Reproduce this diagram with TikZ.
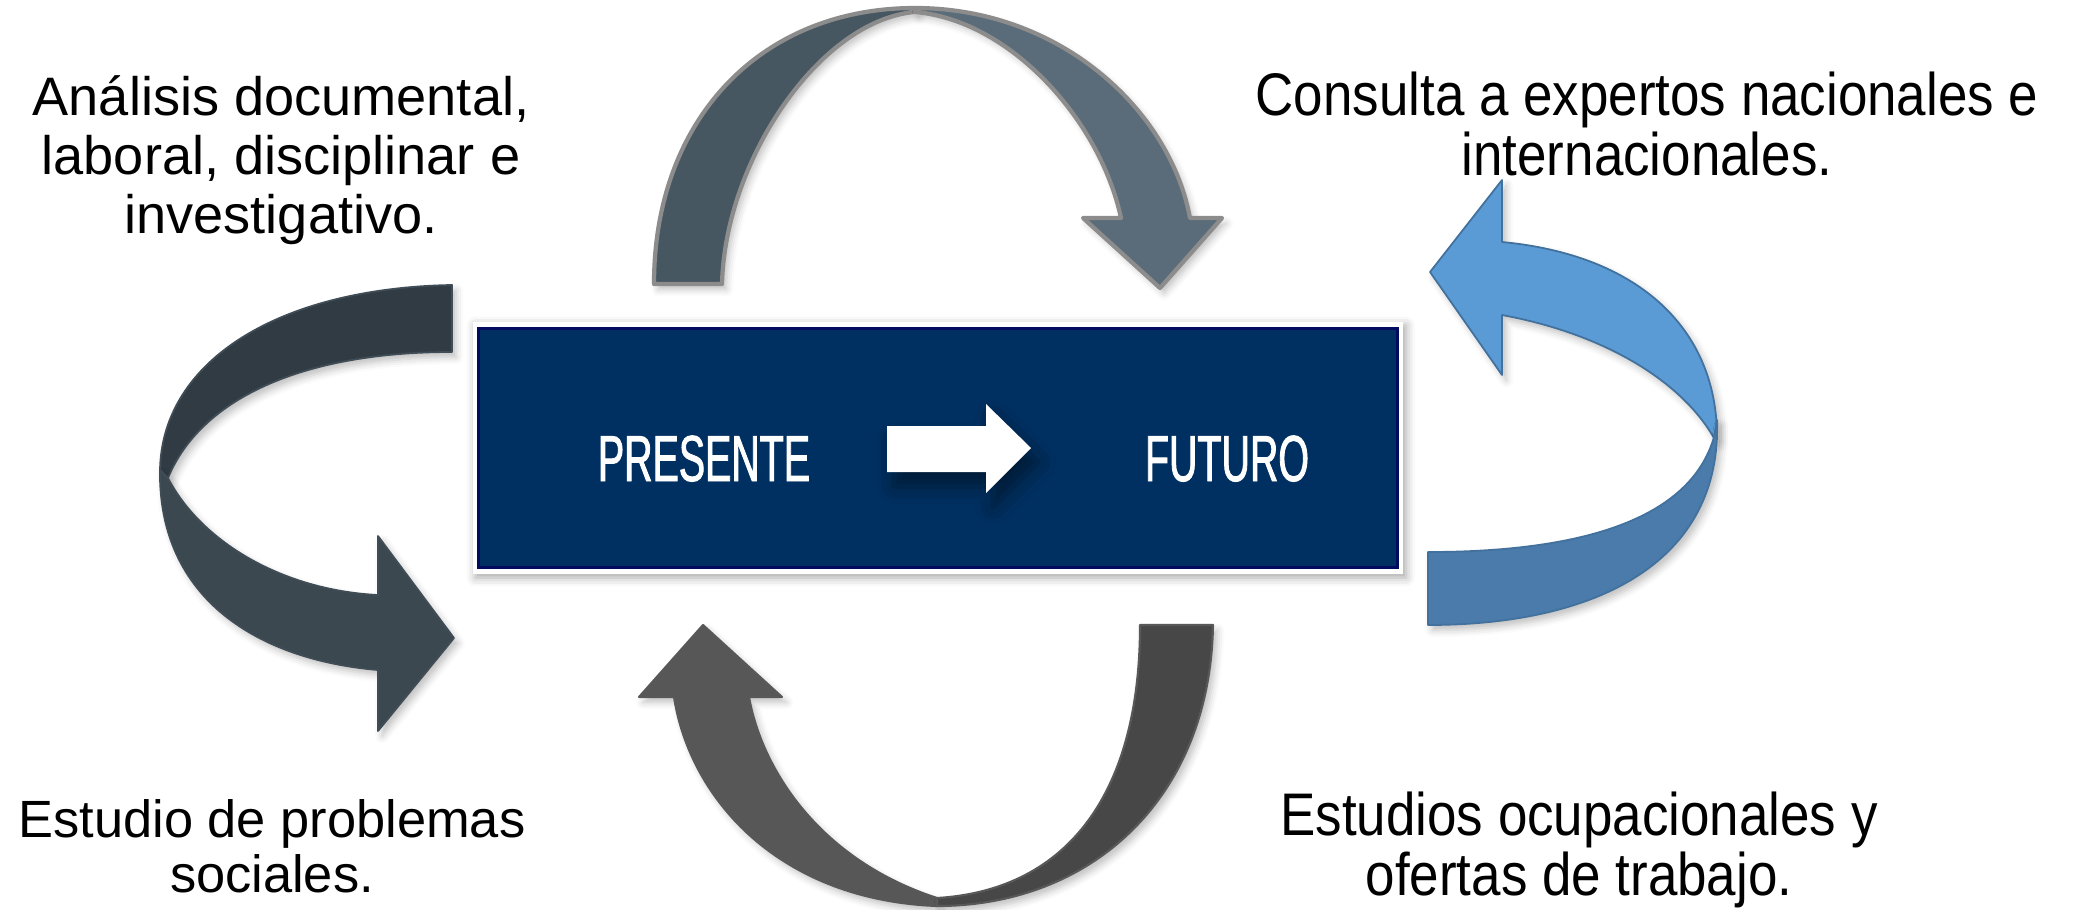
\documentclass[tikz,border=0pt]{standalone}
\usepackage{fontspec}
\setmainfont{Liberation Sans}
\newfontfamily\narrowfont{Liberation Sans}[FakeStretch=0.88]
\newfontfamily\condfont{Liberation Sans}[FakeStretch=0.605, FakeBold=1.3]
\usetikzlibrary{shadows.blur}
\definecolor{topLc}{RGB}{71,87,97}
\definecolor{topRc}{RGB}{90,108,121}
\definecolor{topline}{RGB}{140,140,140}
\definecolor{leftT}{RGB}{49,59,67}
\definecolor{leftB}{RGB}{59,72,80}
\definecolor{leftline}{RGB}{64,77,86}
\definecolor{rightT}{RGB}{91,155,213}
\definecolor{rightB}{RGB}{74,123,171}
\definecolor{rightline}{RGB}{65,113,156}
\definecolor{botL}{RGB}{87,87,87}
\definecolor{botR}{RGB}{71,71,71}
\definecolor{botline}{RGB}{88,88,88}
\definecolor{boxfill}{RGB}{0,48,97}
\definecolor{boxline}{RGB}{0,10,94}
\tikzset{
  every node/.style={inner sep=0pt, outer sep=0pt},
  shad/.style={blur shadow={shadow xshift=1.2pt, shadow yshift=-1.5pt, shadow blur radius=2pt, shadow opacity=25}},
  topband/.style={shad, draw=topline, line width=1.2pt, line join=round},
  leftband/.style={shad, draw=leftline, line width=0.5pt, line join=round},
  rightband/.style={shad, draw=rightline, line width=0.5pt, line join=round},
  botband/.style={shad, draw=botline, line width=0.6pt, line join=round},
  frame/.style={fill=white, minimum width=9.30cm, minimum height=2.52cm,
    blur shadow={shadow xshift=0.8pt, shadow yshift=-1pt, shadow blur radius=2.5pt, shadow opacity=35}},
  box/.style={fill=boxfill, draw=boxline, line width=0.85pt, minimum width=9.18cm, minimum height=2.38cm},
  boxtext/.style={text=white, font=\condfont\fontsize{18.5pt}{19pt}\selectfont},
  lblA/.style={font=\fontsize{15.4pt}{16.8pt}\selectfont},
  lblB/.style={font=\fontsize{14.9pt}{15.9pt}\selectfont},
  lblC/.style={font=\narrowfont\fontsize{17.1pt}{16.3pt}\selectfont},
}
\begin{document}
\begin{tikzpicture}[x=0.01cm,y=-0.01cm]
\useasboundingbox (0,0) rectangle (2073,909);

% top arrow
\path[topband, fill=topLc] (654,284) .. controls (654,120) and (760,8) .. (915,8)
  -- (915,12) .. controls (820,20) and (725,160) .. (722,284) -- cycle;
\path[topband, fill=topRc] (915,8) .. controls (1060,8) and (1170,110) .. (1190,218)
  -- (1222,218) -- (1160,288) -- (1083,218) -- (1121,218)
  .. controls (1100,120) and (1010,20) .. (915,12) -- cycle;

% left arrow
\path[leftband, fill=leftT] (452,285) .. controls (280,288) and (162,360) .. (160,470)
  -- (168,478) .. controls (200,400) and (300,352) .. (452,352) -- cycle;
\path[leftband, fill=leftB] (160,470) .. controls (158,600) and (260,660) .. (378,670)
  -- (378,731) -- (454,638) -- (378,536) -- (378,595)
  .. controls (280,590) and (200,540) .. (168,478) -- cycle;

% right arrow
\path[rightband, fill=rightT] (1430,272) -- (1502,180) -- (1502,242)
  .. controls (1640,255) and (1717,330) .. (1717,437)
  -- (1715,440) .. controls (1685,385) and (1610,335) .. (1502,315)
  -- (1502,375) -- cycle;
\path[rightband, fill=rightB] (1717,420) .. controls (1722,560) and (1600,625) .. (1428,625)
  -- (1428,552) .. controls (1580,552) and (1690,520) .. (1714,437) -- cycle;

% bottom arrow
\path[botband, fill=botL] (703,625) -- (782,697) -- (749,697)
  .. controls (762,770) and (820,860) .. (937,898)
  -- (937,906) .. controls (780,900) and (690,800) .. (674,697)
  -- (639,697) -- cycle;
\path[botband, fill=botR] (937,906) .. controls (1090,906) and (1210,800) .. (1213,625)
  -- (1140,625) .. controls (1140,790) and (1070,890) .. (937,898) -- cycle;

% central box
\node[frame] (frame) at (938,448) {};
\node[box] (box) at (938,448) {};
\node[boxtext, anchor=base] (pres) at (704,481) {PRESENTE};
\node[boxtext, anchor=base] (fut) at (1227,481) {FUTURO};
\fill[white, blur shadow={shadow xshift=2pt, shadow yshift=-4pt, shadow blur radius=5pt, shadow opacity=45}]
  (887,426) -- (986,426) -- (986,404) -- (1031,448) -- (986,493) -- (986,472) -- (887,472) -- cycle;

% labels
\node[lblA, anchor=base] (t1) at (281,115)
  {\begin{tabular}[t]{@{}c@{}}Análisis documental,\\laboral, disciplinar e\\investigativo.\end{tabular}};
\node[lblC, anchor=base] (t2) at (1647,115)
  {\begin{tabular}[t]{@{}c@{}}Consulta a expertos nacionales e\\internacionales.\end{tabular}};
\node[lblB, anchor=base] (t3) at (272,837)
  {\begin{tabular}[t]{@{}c@{}}Estudio de problemas\\sociales.\end{tabular}};
\node[lblC, anchor=base] (t4) at (1579,835)
  {\begin{tabular}[t]{@{}c@{}}Estudios ocupacionales y\\ofertas de trabajo.\end{tabular}};
\end{tikzpicture}
\end{document}
